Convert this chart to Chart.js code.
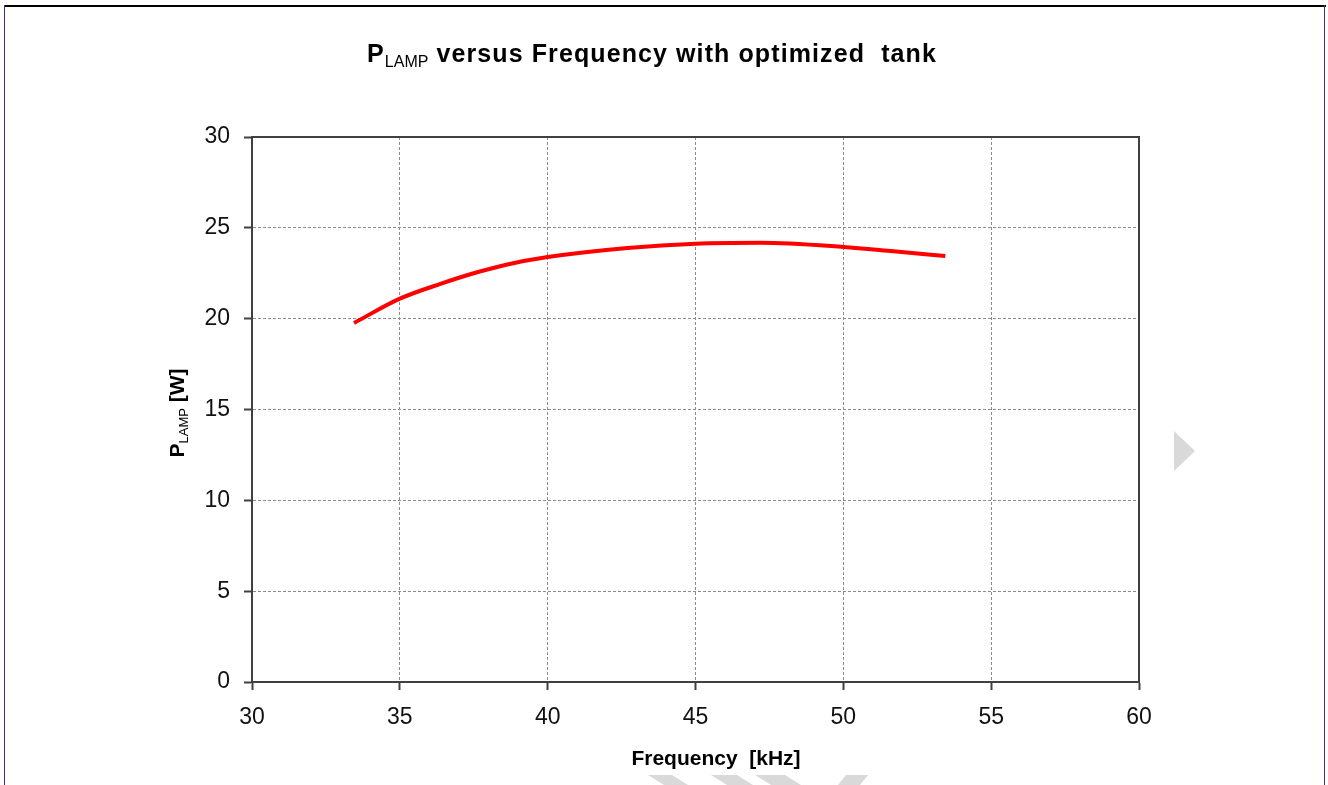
<!DOCTYPE html>
<html>
<head>
<meta charset="utf-8">
<script src="https://cdn.jsdelivr.net/npm/chart.js@4/dist/chart.umd.min.js"></script>
<style>
  html, body { margin: 0; padding: 0; background: #fff; }
  canvas { display: block; }
</style>
</head>
<body>
<canvas id="grafico" width="1328" height="785"></canvas>
<script>
// Frequência (kHz) e potência da lâmpada (W)
const frequencia = [33.45, 35.0, 36.4, 37.5, 38.6, 40.0, 42.7, 45.0, 47.2, 50.0, 51.7, 53.45];
const potencia   = [19.76, 21.1, 21.93, 22.5, 22.97, 23.39, 23.89, 24.13, 24.18, 23.95, 23.71, 23.45];

const ticksX = [30, 35, 40, 45, 50, 55, 60];
const ticksY = [0, 5, 10, 15, 20, 25, 30];

const FONTE = "'Liberation Sans', Arial, sans-serif";

// texto com subscrito (P + LAMP)
function textoSub(ctx, x, y, base, sub, resto, size, espaco) {
    ctx.letterSpacing = espaco + "px";
    ctx.font = `bold ${size}px ${FONTE}`;
    const wBase = ctx.measureText(base).width;
    const wResto = ctx.measureText(resto).width;
    const subSize = Math.round(size * 0.62);
    ctx.font = `${subSize}px ${FONTE}`;
    ctx.letterSpacing = "0px";
    const wSub = ctx.measureText(sub).width;
    const total = wBase + wSub + wResto;
    const x0 = x - total / 2;
    ctx.textBaseline = "alphabetic";
    ctx.textAlign = "left";
    ctx.fillText(sub, x0 + wBase, y + size * 0.2);
    ctx.letterSpacing = espaco + "px";
    ctx.font = `bold ${size}px ${FONTE}`;
    ctx.fillText(base, x0, y);
    ctx.fillText(resto, x0 + wBase + wSub, y);
    ctx.letterSpacing = "0px";
}

const moldura = {
    id: "moldura",
    beforeDraw(chart) {
        const ctx = chart.ctx;
        ctx.save();
        // marcas cinza claras do fundo
        ctx.fillStyle = "#d9d9d9";
        ctx.beginPath();
        ctx.moveTo(1174, 431); ctx.lineTo(1195, 451); ctx.lineTo(1174, 471);
        ctx.closePath(); ctx.fill();
        const faixas = [[648, 672], [711, 737], [755, 785]];
        faixas.forEach(([a, b]) => {
            ctx.beginPath();
            ctx.moveTo(a, 775); ctx.lineTo(b, 775); ctx.lineTo(b + 16, 785); ctx.lineTo(a + 16, 785);
            ctx.closePath(); ctx.fill();
        });
        ctx.beginPath();
        ctx.moveTo(846, 775); ctx.lineTo(868, 775); ctx.lineTo(860, 785); ctx.lineTo(838, 785);
        ctx.closePath(); ctx.fill();
        // borda da página
        ctx.fillStyle = "#000";
        ctx.fillRect(4, 5, 1322, 2);
        ctx.fillStyle = "#4a2b87";
        ctx.fillRect(4, 5, 1, 780);
        ctx.fillRect(1324, 5, 1, 780);
        ctx.restore();
    },
    afterDraw(chart) {
        const ctx = chart.ctx;
        const a = chart.chartArea;
        ctx.save();
        ctx.strokeStyle = "#404040";
        ctx.lineWidth = 2;
        ctx.beginPath();
        ctx.moveTo(a.left, a.top); ctx.lineTo(a.right, a.top); ctx.lineTo(a.right, a.bottom);
        ctx.stroke();
        ctx.fillStyle = "#000";
        textoSub(ctx, 652, 62, "P", "LAMP", " versus Frequency with optimized  tank", 25, 1.1);
        ctx.font = `bold 21px ${FONTE}`;
        ctx.textAlign = "center";
        ctx.textBaseline = "alphabetic";
        ctx.fillText("Frequency  [kHz]", 716, 765);
        ctx.translate(184, 413);
        ctx.rotate(-Math.PI / 2);
        textoSub(ctx, 0, 0, "P", "LAMP", " [W]", 21, 0);
        ctx.restore();
    }
};

new Chart(document.getElementById("grafico").getContext("2d"), {
    type: "line",
    data: {
        datasets: [{
            data: frequencia.map((f, i) => ({ x: f, y: potencia[i] })),
            borderColor: "#ff0000",
            borderWidth: 4,
            pointRadius: 0,
            cubicInterpolationMode: "monotone",
            fill: false
        }]
    },
    options: {
        responsive: false,
        animation: false,
        layout: { padding: { top: 137, left: 0, right: 189, bottom: 0 } },
        plugins: {
            legend: { display: false },
            title: { display: false },
            tooltip: { enabled: false }
        },
        scales: {
            x: {
                type: "linear",
                min: 30, max: 60,
                afterFit: s => { s.height = 103; },
                afterBuildTicks: s => { s.ticks = ticksX.map(v => ({ value: v })); },
                ticks: { color: "#111", font: { family: FONTE, size: 23 }, padding: 14 },
                grid: { color: "#8c8c8c", lineWidth: 1, tickColor: "#404040", tickWidth: 2, tickLength: 8, tickBorderDash: [] },
                border: { color: "#404040", width: 2, dash: [3, 2] }
            },
            y: {
                min: 0, max: 30,
                afterFit: s => { s.width = 252; },
                afterBuildTicks: s => { s.ticks = ticksY.map(v => ({ value: v })); },
                ticks: { color: "#111", font: { family: FONTE, size: 23 }, padding: 14 },
                grid: { color: "#8c8c8c", lineWidth: 1, tickColor: "#404040", tickWidth: 2, tickLength: 8, tickBorderDash: [] },
                border: { color: "#404040", width: 2, dash: [3, 2] }
            }
        }
    },
    plugins: [moldura]
});
</script>
</body>
</html>
